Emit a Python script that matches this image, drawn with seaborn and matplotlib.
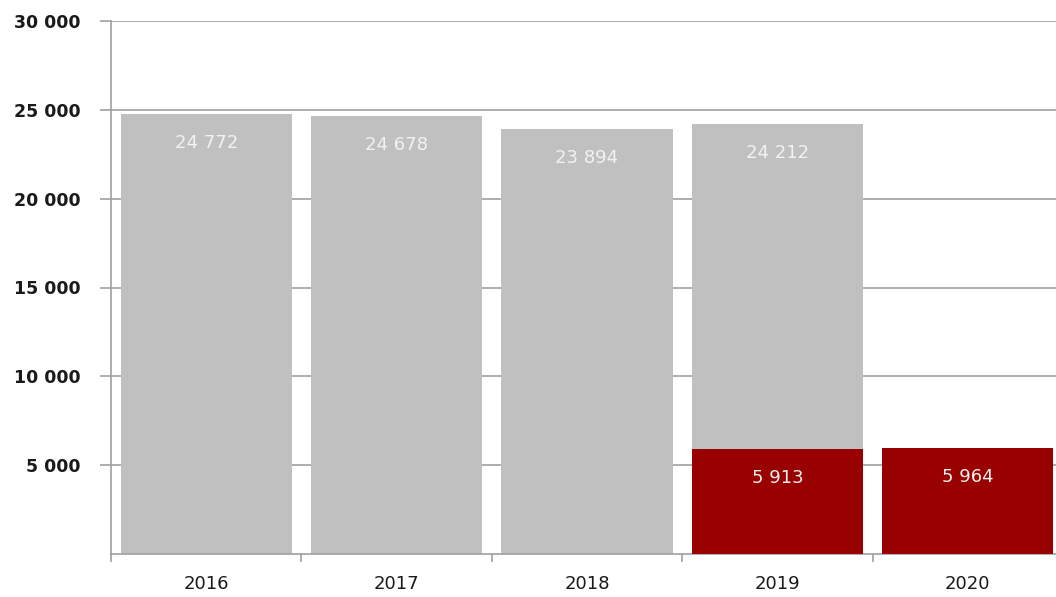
import pandas as pd
import matplotlib.pyplot as plt
import seaborn as sns

# Données
annees = ["2016", "2017", "2018", "2019", "2020"]
annees_gris = ["2016", "2017", "2018", "2019"]
valeurs_gris = [24772, 24678, 23894, 24212]
annees_rouge = ["2019", "2020"]
valeurs_rouge = [5913, 5964]
yticks = [5000, 10000, 15000, 20000, 25000, 30000]

gris = "#C0C0C0"
rouge = "#990000"
ligne = "#A0A0A0"


def fmt(v):
    return f"{v:,}".replace(",", " ")


sns.set_style("white")
plt.rcParams["font.family"] = ["DejaVu Sans"]

fig = plt.figure(figsize=(10.56, 5.97), dpi=100)
# la dernière catégorie dépasse légèrement le bord droit
ax = fig.add_axes([111 / 1056, 1 - 554 / 597, (1063 - 111) / 1056, (554 - 21) / 597])

df_gris = pd.DataFrame({"annee": annees_gris, "valeur": valeurs_gris})
df_rouge = pd.DataFrame({"annee": annees_rouge, "valeur": valeurs_rouge})

sns.barplot(data=df_gris, x="annee", y="valeur", order=annees, color=gris,
            width=0.9, saturation=1, linewidth=0, ax=ax, zorder=2)
sns.barplot(data=df_rouge, x="annee", y="valeur", order=annees, color=rouge,
            width=0.9, saturation=1, linewidth=0, ax=ax, zorder=3)

# Étiquettes de valeurs
for serie in (zip(annees_gris, valeurs_gris), zip(annees_rouge, valeurs_rouge)):
    for a, v in serie:
        ax.annotate(fmt(v), (annees.index(a), v), xytext=(0, -29),
                    textcoords="offset pixels", ha="center", va="center",
                    color="#F2F2F2", fontsize=13, zorder=5)

ax.set_xlim(-0.5, 4.5)
ax.set_ylim(0, 30000)
ax.set_yticks(yticks)
ax.set_yticklabels([fmt(t) for t in yticks], fontsize=12.5, fontweight="bold",
                   color="#1a1a1a")
ax.yaxis.grid(True, color=ligne, linewidth=1.2)
ax.set_axisbelow(True)

# Ticks x : marques aux limites des catégories
ax.set_xticks(range(len(annees)))
ax.set_xticklabels(annees, fontsize=13, color="#1a1a1a")
ax.set_xticks([i - 0.5 for i in range(len(annees))], minor=True)
ax.tick_params(axis="x", which="major", length=0, pad=15)
ax.tick_params(axis="x", which="minor", length=6, width=1.2, color=ligne,
               direction="out", bottom=True)
ax.tick_params(axis="y", length=8, width=1.2, color=ligne, direction="out",
               left=True, pad=14)

ax.set_xlabel("")
ax.set_ylabel("")
sns.despine(ax=ax, top=True, right=True)
for s in ("left", "bottom"):
    ax.spines[s].set_color(ligne)
    ax.spines[s].set_linewidth(1.2)

fig.savefig("out.png", dpi=100)
plt.close()
